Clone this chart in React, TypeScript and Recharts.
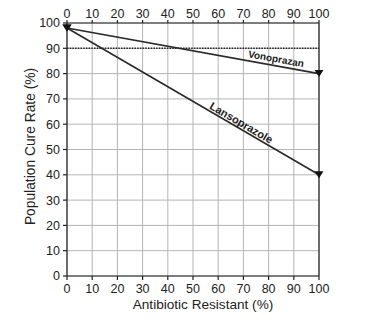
import React from "react";
import {
  CartesianGrid,
  Line,
  LineChart,
  ReferenceDot,
  ReferenceLine,
  XAxis,
  YAxis,
} from "recharts";

// values
const resistant = [0, 100];
const vonoprazan = [98, 80];
const lansoprazole = [98, 40];
const majorTicks = [0, 10, 20, 30, 40, 50, 60, 70, 80, 90, 100];
const rightTicks = [0, 10, 20, 30, 40, 50, 60, 70, 80, 90];
const minorTicks = [5, 15, 25, 35, 45, 55, 65, 75, 85, 95];
const targetRate = 90;

const W = 375;
const H = 320;
const LEFT = 67;
const RIGHT = 56;
const TOP = 23;
const BOTTOM = 44;
const PLOT_W = W - LEFT - RIGHT;
const PLOT_H = H - TOP - BOTTOM;

const FONT = "'Liberation Sans', Arial, sans-serif";
const INK = "#222";

const data = resistant.map((x, i) => ({
  x,
  vono: vonoprazan[i],
  lanso: lansoprazole[i],
}));

// angle of a line in pixel space, so the labels follow the lines
const slopeAngle = (ys: number[]) =>
  (Math.atan(((ys[0] - ys[1]) / 100) * PLOT_H / (PLOT_W)) * 180) / Math.PI;

const at = (ys: number[], x: number) => ys[0] + ((ys[1] - ys[0]) * x) / 100;

const Triangle = (props: any) => {
  const { cx, cy } = props;
  if (cx == null || cy == null) return null;
  return (
    <path
      d={`M${cx - 4.5},${cy - 3.5}L${cx + 4.5},${cy - 3.5}L${cx},${cy + 3.5}Z`}
      fill="#111"
    />
  );
};

const lineLabel = (text: string, angle: number, size: number, lift: number) =>
  (props: any) => {
    const vb = props.viewBox || {};
    const x = vb.x + (vb.width || 0) / 2;
    const y = vb.y + (vb.height || 0) / 2;
    return (
      <text
        x={x}
        y={y - lift}
        transform={`rotate(${angle} ${x} ${y})`}
        textAnchor="middle"
        fontFamily={FONT}
        fontSize={size}
        fontWeight="bold"
        fill={INK}
      >
        {text}
      </text>
    );
  };

const YTitle = (props: any) => {
  const vb = props.viewBox || {};
  const x = 35;
  const y = vb.y + vb.height / 2 - 3;
  return (
    <text
      x={x}
      y={y}
      transform={`rotate(-90 ${x} ${y})`}
      textAnchor="middle"
      fontFamily={FONT}
      fontSize={13.8}
      fill={INK}
    >
      Population Cure Rate (%)
    </text>
  );
};

const XTitle = (props: any) => {
  const vb = props.viewBox || {};
  return (
    <text
      x={vb.x + vb.width / 2 + 10}
      y={309}
      textAnchor="middle"
      fontFamily={FONT}
      fontSize={13.6}
      fill={INK}
    >
      Antibiotic Resistant (%)
    </text>
  );
};

const tickStyle = { fill: INK, fontSize: 12.5, fontFamily: FONT };
const axisStroke = { stroke: INK, strokeWidth: 1.2 };

export default function App() {
  const vonoX = 82.5;
  const lansoX = 68;
  return (
    <div style={{ position: "fixed", left: 0, top: 0, background: "#fff" }}>
      <LineChart
        width={W}
        height={H}
        data={data}
        margin={{ top: 0, right: 0, bottom: 0, left: 0 }}
      >
        {/* minor tick axes come first so they sit on the plot edge */}
        <XAxis
          xAxisId="bMinor"
          type="number"
          dataKey="x"
          domain={[0, 100]}
          ticks={minorTicks}
          orientation="bottom"
          height={0}
          tick={false}
          tickSize={3}
          axisLine={false}
          tickLine={axisStroke}
        />
        <XAxis
          xAxisId="tMinor"
          type="number"
          dataKey="x"
          domain={[0, 100]}
          ticks={minorTicks}
          orientation="top"
          height={0}
          tick={false}
          tickSize={3}
          axisLine={false}
          tickLine={axisStroke}
        />
        <YAxis
          yAxisId="lMinor"
          type="number"
          domain={[0, 100]}
          ticks={minorTicks}
          orientation="left"
          width={0}
          tick={false}
          tickSize={3}
          axisLine={false}
          tickLine={axisStroke}
        />
        <YAxis
          yAxisId="rMinor"
          type="number"
          domain={[0, 100]}
          ticks={minorTicks}
          orientation="right"
          width={0}
          tick={false}
          tickSize={3}
          axisLine={false}
          tickLine={axisStroke}
        />
        <XAxis
          xAxisId="bottom"
          type="number"
          dataKey="x"
          domain={[0, 100]}
          ticks={majorTicks}
          orientation="bottom"
          height={BOTTOM}
          tick={tickStyle}
          tickSize={4}
          tickMargin={4}
          axisLine={axisStroke}
          tickLine={axisStroke}
          label={<XTitle />}
        />
        <XAxis
          xAxisId="top"
          type="number"
          dataKey="x"
          domain={[0, 100]}
          ticks={majorTicks}
          orientation="top"
          height={TOP}
          tick={tickStyle}
          tickSize={3}
          tickMargin={2}
          axisLine={axisStroke}
          tickLine={axisStroke}
        />
        <YAxis
          yAxisId="left"
          type="number"
          domain={[0, 100]}
          ticks={majorTicks}
          orientation="left"
          width={LEFT}
          tick={tickStyle}
          tickSize={4}
          tickMargin={3}
          axisLine={axisStroke}
          tickLine={axisStroke}
          label={<YTitle />}
        />
        <YAxis
          yAxisId="right"
          type="number"
          domain={[0, 100]}
          ticks={rightTicks}
          orientation="right"
          width={RIGHT}
          tick={tickStyle}
          tickSize={4}
          tickMargin={3}
          axisLine={axisStroke}
          tickLine={axisStroke}
        />
        <CartesianGrid
          xAxisId="bottom"
          yAxisId="left"
          stroke="#b4b4b4"
          strokeWidth={1}
        />
        <ReferenceLine
          xAxisId="bottom"
          yAxisId="left"
          y={targetRate}
          stroke="#222"
          strokeWidth={1.6}
          strokeDasharray="1.5 1.2"
        />
        <Line
          xAxisId="bottom"
          yAxisId="left"
          dataKey="vono"
          stroke="#2a2a2a"
          strokeWidth={1.6}
          dot={<Triangle />}
          isAnimationActive={false}
        />
        <Line
          xAxisId="bottom"
          yAxisId="left"
          dataKey="lanso"
          stroke="#2a2a2a"
          strokeWidth={1.6}
          dot={<Triangle />}
          isAnimationActive={false}
        />
        <ReferenceDot
          xAxisId="bottom"
          yAxisId="left"
          x={vonoX}
          y={at(vonoprazan, vonoX)}
          r={1}
          fill="none"
          stroke="none"
          label={lineLabel("Vonoprazan", slopeAngle(vonoprazan), 10, 3.5)}
        />
        <ReferenceDot
          xAxisId="bottom"
          yAxisId="left"
          x={lansoX}
          y={at(lansoprazole, lansoX)}
          r={1}
          fill="none"
          stroke="none"
          label={lineLabel("Lansoprazole", slopeAngle(lansoprazole), 11, 2)}
        />
      </LineChart>
    </div>
  );
}
